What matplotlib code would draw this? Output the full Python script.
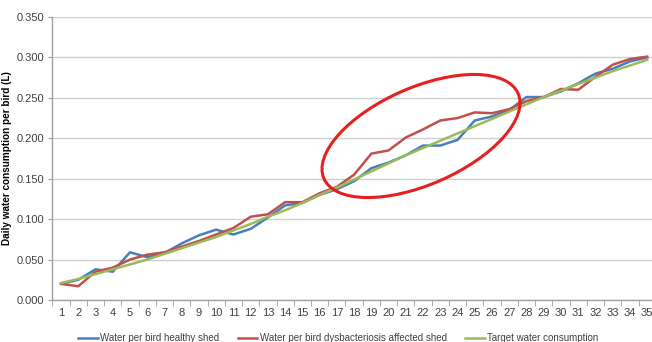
import matplotlib
matplotlib.use("Agg")
import matplotlib.pyplot as plt
from matplotlib.patches import Ellipse
from matplotlib.transforms import IdentityTransform
import numpy as np

days = list(range(1, 36))
healthy = [0.020, 0.025, 0.038, 0.035, 0.059, 0.053, 0.058, 0.070, 0.080, 0.087,
           0.081, 0.088, 0.102, 0.117, 0.120, 0.130, 0.137, 0.147, 0.163, 0.170,
           0.179, 0.191, 0.191, 0.198, 0.222, 0.227, 0.235, 0.251, 0.251, 0.258,
           0.268, 0.280, 0.286, 0.295, 0.300]
dysbac = [0.020, 0.017, 0.035, 0.040, 0.050, 0.056, 0.059, 0.066, 0.073, 0.081,
          0.089, 0.103, 0.106, 0.121, 0.121, 0.132, 0.140, 0.155, 0.181, 0.185,
          0.201, 0.211, 0.222, 0.225, 0.232, 0.231, 0.236, 0.246, 0.251, 0.261,
          0.260, 0.276, 0.291, 0.298, 0.301]
target = [0.021, 0.026, 0.032, 0.038, 0.044, 0.050, 0.057, 0.064, 0.071, 0.078,
          0.086, 0.094, 0.103, 0.111, 0.120, 0.130, 0.139, 0.149, 0.159, 0.169,
          0.179, 0.188, 0.197, 0.206, 0.215, 0.224, 0.233, 0.242, 0.251, 0.259,
          0.267, 0.275, 0.283, 0.290, 0.297]
yticks = [0.0, 0.05, 0.10, 0.15, 0.20, 0.25, 0.30, 0.35]
labels = ["Water per bird healthy shed",
          "Water per bird dysbacteriosis affected shed",
          "Target water consumption"]
ylabel = "Daily water consumption per bird (L)"

plt.rcParams['font.family'] = ['Liberation Sans', 'DejaVu Sans']

W, H = 652, 342
fig = plt.figure(figsize=(W / 100, H / 100), dpi=100)
ax = fig.add_axes([52.4 / W, 42 / H, 603.4 / W, 283 / H])

c_blue = '#4a7ebb'
c_red = '#c0504d'
c_green = '#9bbb59'
lw = 1.8
ax.plot(days, healthy, color=c_blue, lw=lw, label=labels[0], zorder=3)
ax.plot(days, dysbac, color=c_red, lw=lw, label=labels[1], zorder=3)
ax.plot(days, target, color=c_green, lw=lw, label=labels[2], zorder=4)

ax.set_xlim(0.5, 35.5)
ax.set_ylim(0, 0.35)
ax.set_yticks(yticks)
ax.set_yticklabels([f"{v:.3f}" for v in yticks], fontsize=8, color='#404040')
ax.set_xticks(days)
ax.set_xticklabels([str(d) for d in days], fontsize=8, color='#404040')
ax.set_xticks(np.arange(0.5, 36, 1), minor=True)
ax.tick_params(axis='x', which='major', length=0, pad=6)
ax.tick_params(axis='x', which='minor', length=4, color='#a0a0a0', direction='out')
ax.tick_params(axis='y', length=3, color='#a0a0a0', pad=3)
ax.grid(axis='y', color='#d0d0d0', lw=1)
ax.set_axisbelow(True)
for s in ['top', 'right']:
    ax.spines[s].set_visible(False)
for s in ['left', 'bottom']:
    ax.spines[s].set_color('#a0a0a0')
    ax.spines[s].set_linewidth(1)
ax.set_ylabel(ylabel, fontsize=7.2, fontweight='bold', labelpad=3)

fig.legend(loc='center', bbox_to_anchor=(0.519, 4 / H), ncol=3, frameon=False,
           fontsize=7, handlelength=2.0, handletextpad=0.25, columnspacing=1.9,
           labelcolor='#404040', borderpad=0, borderaxespad=0)

ell = Ellipse((421, H - 136), width=212, height=97, angle=23.7, fill=False,
              edgecolor='#e62020', lw=2.2, transform=IdentityTransform(), zorder=10)
fig.patches.append(ell)

fig.savefig('out.png', dpi=100)
